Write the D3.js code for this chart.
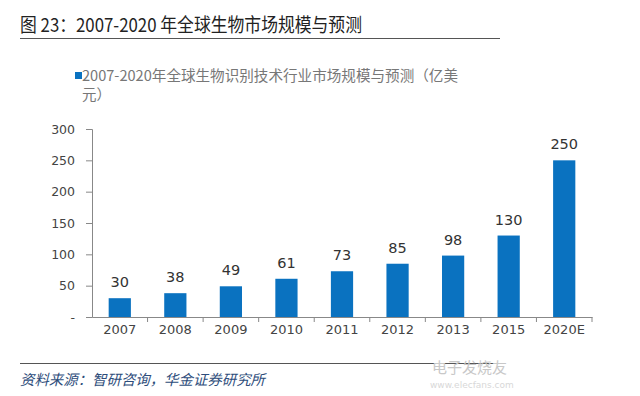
<!DOCTYPE html>
<html><head><meta charset="utf-8">
<script src="https://cdn.jsdelivr.net/npm/d3@7"></script>
<style>body{margin:0;background:#fff}svg{display:block}</style>
</head><body>
<svg id="c" width="640" height="396"></svg>
<script>
const categories = ["2007","2008","2009","2010","2011","2012","2013","2015","2020E"];
const values = [30,38,49,61,73,85,98,130,250];
const yTicks = [0,50,100,150,200,250,300];
const titleText = "图 23：2007-2020 年全球生物市场规模与预测";
const legendLine1 = "2007-2020年全球生物识别技术行业市场规模与预测（亿美";
const legendLine2 = "元）";
const sourceText = "资料来源：智研咨询，华金证券研究所";

const svg = d3.select("#c");
const cjk = "'Noto Sans CJK SC','Noto Sans',sans-serif";
const x = d3.scaleBand().domain(categories).range([92,592]).paddingInner(0.6).paddingOuter(0.3);
const y = d3.scaleLinear().domain([0,300]).range([317,129]);

// title
svg.append("text").attr("x",20).attr("y",32).attr("font-family",cjk).attr("font-size",19)
  .attr("fill","#222").attr("textLength",342).attr("lengthAdjust","spacingAndGlyphs").text(titleText);
svg.append("line").attr("x1",20).attr("x2",500).attr("y1",38.5).attr("y2",38.5).attr("stroke","#555").attr("stroke-width",1);

// legend
svg.append("rect").attr("x",75).attr("y",72).attr("width",7).attr("height",7).attr("fill","#0a72c0");
svg.append("text").attr("x",82).attr("y",81).attr("font-family",cjk).attr("font-size",14.5).attr("fill","#777")
  .attr("textLength",376).attr("lengthAdjust","spacingAndGlyphs").text(legendLine1);
svg.append("text").attr("x",82).attr("y",100).attr("font-family",cjk).attr("font-size",14.5).attr("fill","#777").text(legendLine2);

// bars
svg.append("g").selectAll("rect").data(values).join("rect")
  .attr("x",(d,i)=>x(categories[i])).attr("width",x.bandwidth())
  .attr("y",d=>y(d)).attr("height",d=>y(0)-y(d)).attr("fill","#0a72c0");

// value labels
svg.append("g").selectAll("text").data(values).join("text")
  .attr("x",(d,i)=>x(categories[i])+x.bandwidth()/2).attr("y",d=>y(d)-11)
  .attr("text-anchor","middle").attr("font-family","'DejaVu Sans',sans-serif").attr("font-size",14.5).attr("fill","#333")
  .text(d=>d);

// y axis
const yAxis = d3.axisLeft(y).tickValues(yTicks).tickSize(6).tickPadding(11)
  .tickFormat(d=>d===0?"-":d);
const gy = svg.append("g").attr("transform","translate(92,0)").call(yAxis);
gy.selectAll("path,line").attr("stroke","#888");
gy.selectAll("text").attr("font-family","'DejaVu Sans',sans-serif").attr("font-size",12.5).attr("fill","#444");

// x axis
const xAxis = d3.axisBottom(x).tickSize(0).tickPadding(8);
const gx = svg.append("g").attr("transform","translate(0,317)").call(xAxis);
gx.select("path").attr("stroke","#888");
gx.selectAll("text").attr("font-family","'DejaVu Sans',sans-serif").attr("font-size",13).attr("fill","#444");
// boundary ticks
svg.append("g").selectAll("line").data(categories.slice(1).concat(["end"])).join("line")
  .attr("x1",(c,i)=> i<categories.length-1 ? x(c)-(x.step()-x.bandwidth())/2 : 592)
  .attr("x2",(c,i)=> i<categories.length-1 ? x(c)-(x.step()-x.bandwidth())/2 : 592)
  .attr("y1",317).attr("y2",322).attr("stroke","#888");

// bottom rule and source
svg.append("line").attr("x1",20).attr("x2",500).attr("y1",363.5).attr("y2",363.5).attr("stroke","#555").attr("stroke-width",1);
svg.append("text").attr("x",20).attr("y",385).attr("font-family",cjk).attr("font-size",14.5).attr("font-style","italic")
  .attr("fill","#2e4d7b").attr("textLength",245).attr("lengthAdjust","spacingAndGlyphs").text(sourceText);

// watermark
svg.append("text").attr("x",432).attr("y",373).attr("font-family",cjk).attr("font-size",15).attr("fill","#c8c8c8").text("电子发烧友");
svg.append("text").attr("x",430).attr("y",388).attr("font-family","'DejaVu Sans',sans-serif").attr("font-size",9).attr("fill","#d8d8d8").text("www.elecfans.com");
</script>
</body></html>
